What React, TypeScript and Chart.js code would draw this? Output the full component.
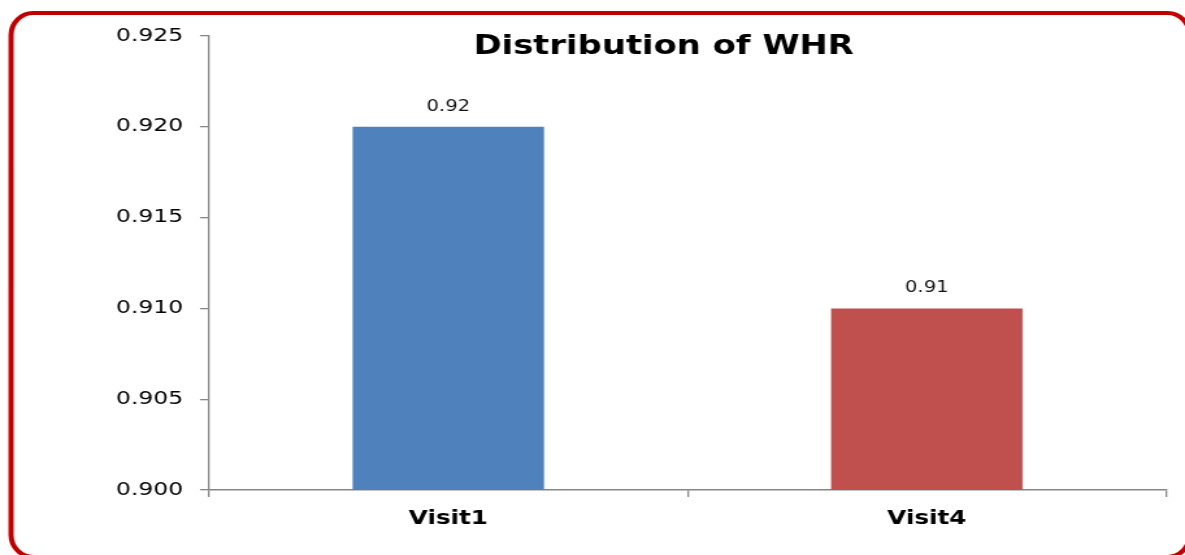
import React, { useEffect, useRef } from 'react';
import { Chart, registerables } from 'chart.js';

Chart.register(...registerables);

const TITLE = 'Distribution of WHR';
const categories = ['Visit1', 'Visit4'];
const whrValues = [0.92, 0.91];
const barColors = ['#4F81BD', '#C0504D'];
const yMin = 0.9;
const yMax = 0.925;
const yStep = 0.005;

// The reference is horizontally stretched; render narrower and stretch via CSS.
const CANVAS_W = 912;
const CANVAS_H = 555;
const DISPLAY_W = 1185;
const DISPLAY_H = 555;

const framePlugin = {
  id: 'frame',
  beforeDraw(chart: any) {
    const { ctx, width, height } = chart;
    ctx.save();
    ctx.fillStyle = '#ffffff';
    ctx.fillRect(0, 0, width, height);
    ctx.strokeStyle = '#C00000';
    ctx.lineWidth = 4;
    ctx.beginPath();
    (ctx as any).roundRect(8.5, 13, 907, 544, [{ x: 17, y: 22 }]);
    ctx.stroke();
    ctx.restore();
  },
};

const titlePlugin = {
  id: 'customTitle',
  afterDraw(chart: any) {
    const { ctx, chartArea } = chart;
    ctx.save();
    ctx.font = 'bold 26px "DejaVu Sans"';
    ctx.fillStyle = '#000';
    ctx.textAlign = 'center';
    ctx.textBaseline = 'alphabetic';
    ctx.fillText(TITLE, chartArea.left + chartArea.width * 0.475, chartArea.top + 18);
    ctx.restore();
  },
};

const valueLabelPlugin = {
  id: 'valueLabels',
  afterDatasetsDraw(chart: any) {
    const { ctx } = chart;
    const meta = chart.getDatasetMeta(0);
    const data = chart.data.datasets[0].data as number[];
    ctx.save();
    ctx.font = '15px "DejaVu Sans"';
    ctx.fillStyle = '#111';
    ctx.textAlign = 'center';
    ctx.textBaseline = 'middle';
    meta.data.forEach((bar: any, i: number) => {
      ctx.fillText(data[i].toFixed(2), bar.x, bar.y - 20);
    });
    ctx.restore();
  },
};

export default function App() {
  const canvasRef = useRef<HTMLCanvasElement | null>(null);

  useEffect(() => {
    if (!canvasRef.current) return;
    const chart = new Chart(canvasRef.current, {
      type: 'bar',
      data: {
        labels: categories,
        datasets: [
          {
            data: whrValues,
            backgroundColor: barColors,
            borderWidth: 0,
            barPercentage: 0.4,
            categoryPercentage: 1,
          },
        ],
      },
      options: {
        responsive: false,
        animation: false,
        devicePixelRatio: 1,
        layout: { padding: { left: 0, right: 14.6, top: 36, bottom: 0 } },
        plugins: {
          legend: { display: false },
          tooltip: { enabled: false },
          title: { display: false },
        },
        scales: {
          x: {
            afterFit(scale: any) {
              scale.height = 65;
            },
            grid: {
              offset: true,
              drawOnChartArea: false,
              drawTicks: true,
              tickLength: 7,
              color: '#868686',
              lineWidth: 1.3,
            },
            border: { color: '#868686', width: 1.5 },
            ticks: {
              color: '#000',
              padding: 11,
              font: { family: '"DejaVu Sans"', size: 19, weight: 'bold' },
            },
          },
          y: {
            min: yMin,
            max: yMax,
            afterFit(scale: any) {
              scale.width = 160.9;
            },
            grid: {
              drawOnChartArea: false,
              drawTicks: true,
              tickLength: 7,
              color: '#868686',
              lineWidth: 1.3,
            },
            border: { color: '#868686', width: 1.3 },
            ticks: {
              stepSize: yStep,
              color: '#000',
              padding: 13,
              font: { family: '"DejaVu Sans"', size: 18 },
              callback: (v: any) => Number(v).toFixed(3),
            },
          },
        },
      },
      plugins: [framePlugin, titlePlugin, valueLabelPlugin],
    });
    return () => chart.destroy();
  }, []);

  return (
    <div style={{ position: 'fixed', left: 0, top: 0, width: DISPLAY_W, height: DISPLAY_H, background: '#fff' }}>
      <canvas
        ref={canvasRef}
        width={CANVAS_W}
        height={CANVAS_H}
        style={{ width: `${DISPLAY_W}px`, height: `${DISPLAY_H}px`, display: 'block' }}
      />
    </div>
  );
}
